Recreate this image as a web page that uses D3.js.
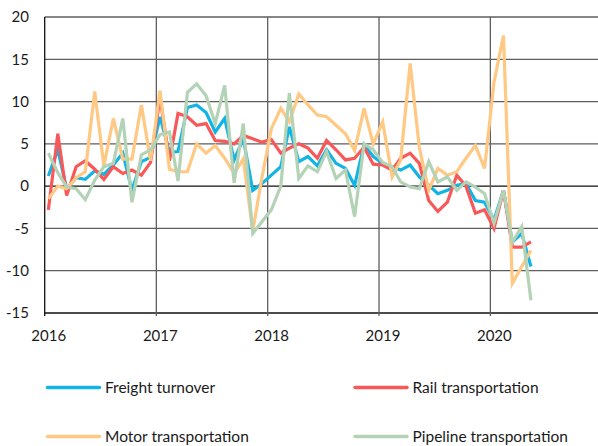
<!DOCTYPE html>
<meta charset="utf-8">
<html>
<head>
    <title>Freight transportation, % YoY</title>
    <script type="text/javascript" src="https://d3js.org/d3.v7.min.js"></script>
    <style>
        body { margin: 0; background: #fff; }
        text { font-family: Lato, "Open Sans", sans-serif; fill: #1a1a1a; }
    </style>
</head>
<body>
    <div id="chart"></div>
    <script>
        // monthly data, Jan 2016 .. May 2020, % year on year
        const freight = [1.2, 4.3, -0.3, 1.0, 0.8, 1.8, 1.4, 2.5, 3.9, -0.5, 2.9, 3.4,
            8.2, 4.0, 4.1, 9.3, 9.6, 8.7, 6.4, 8.0, 3.1, 5.6, -0.5, 0.3,
            1.3, 2.3, 7.0, 2.9, 3.5, 2.4, 4.3, 2.7, 2.1, 0.1, 4.9, 3.5,
            2.7, 2.3, 1.9, 2.5, 1.1, 0.1, -0.9, -0.5, 0.1, 0.3, -1.7, -1.9,
            -4.0, -0.5, -6.6, -5.6, -9.5];
        const rail = [-2.8, 6.2, -1.1, 2.3, 3.0, 2.0, 0.8, 2.3, 1.5, 1.9, 1.3, 2.8,
            10.5, 3.0, 8.6, 8.2, 7.2, 7.4, 5.4, 5.3, 5.0, 6.0, 5.6, 5.2,
            5.5, 3.9, 4.5, 5.0, 4.5, 3.3, 5.4, 4.3, 3.1, 3.3, 4.6, 2.6,
            2.5, 1.9, 3.3, 3.9, 2.7, -1.7, -3.0, -1.9, 1.3, 0.0, -3.2, -2.8,
            -5.0, -0.5, -7.2, -7.2, -6.6];
        const motor = [-1.5, 0.0, -0.3, 1.0, 1.7, 11.2, 2.4, 8.0, 3.2, 3.2, 9.6, 3.0,
            11.3, 2.0, 1.7, 1.7, 5.0, 3.9, 4.8, 3.3, 1.5, 3.2, -5.3, 1.0,
            6.8, 9.2, 7.6, 10.9, 9.6, 8.4, 8.2, 7.2, 6.2, 4.2, 9.2, 5.0,
            7.6, 1.1, 3.1, 14.5, 4.6, -0.5, 2.1, 1.3, 1.7, 3.3, 4.8, 2.1,
            12.3, 17.8, -11.5, -9.5, -7.6];
        const pipeline = [3.9, 1.6, -0.1, -0.3, -1.6, 0.7, 2.3, 2.7, 8.0, -1.9, 3.7, 4.3,
            6.1, 6.4, 0.6, 11.1, 12.1, 10.7, 7.4, 11.9, 0.4, 7.4, -5.6, -4.2,
            -2.8, 0.0, 11.0, 0.9, 2.4, 1.7, 4.1, 0.9, 1.9, -3.6, 5.0, 4.3,
            2.8, 2.3, 0.5, -0.1, -0.3, 2.9, 0.5, 1.1, -0.5, 0.5, -0.1, -0.9,
            -4.4, -0.5, -6.6, -4.8, -13.5];

        const seriesNames = ["Freight turnover", "Rail transportation", "Motor transportation", "Pipeline transportation"];
        const seriesColors = ["#12b4e6", "#f95858", "#ffc883", "#b4d3b6"];
        const yearTicks = [2016, 2017, 2018, 2019, 2020];
        const yTicks = [-15, -10, -5, 0, 5, 10, 15, 20];

        const width = 598;
        const height = 446;

        const svg = d3.select("#chart").append("svg")
            .attr("width", width)
            .attr("height", height);

        const months = d3.range(freight.length).map(i => new Date(2016, i, 13));

        const x = d3.scaleTime()
            .domain([new Date(2016, 0, 1), new Date(2021, 0, 1)])
            .range([44.7, 602]);
        const y = d3.scaleLinear()
            .domain([-15, 20])
            .range([313, 17]);

        // horizontal grid
        svg.append("g")
            .selectAll("line")
            .data(yTicks)
            .enter()
            .append("line")
            .attr("x1", x.range()[0])
            .attr("x2", width)
            .attr("y1", d => y(d))
            .attr("y2", d => y(d))
            .attr("stroke", d => (d === 0 || d === -15) ? "#111" : "#5e5e5e")
            .attr("stroke-width", 1.3);

        // vertical year lines
        svg.append("g")
            .selectAll("line")
            .data(yearTicks)
            .enter()
            .append("line")
            .attr("x1", d => x(new Date(d, 0, 1)))
            .attr("x2", d => x(new Date(d, 0, 1)))
            .attr("y1", y(20))
            .attr("y2", y(-15) + 3)
            .attr("stroke", d => d === 2016 ? "#111" : "#5e5e5e")
            .attr("stroke-width", 1.3);

        // y labels
        svg.append("g")
            .selectAll("text")
            .data(yTicks)
            .enter()
            .append("text")
            .attr("x", 29)
            .attr("y", d => y(d))
            .attr("dy", "0.35em")
            .attr("text-anchor", "end")
            .style("font-size", "15px")
            .text(d => d);

        // x labels
        svg.append("g")
            .selectAll("text")
            .data(yearTicks)
            .enter()
            .append("text")
            .attr("x", d => x(new Date(d, 0, 1)) + 4)
            .attr("y", 336)
            .attr("dy", "0.35em")
            .attr("text-anchor", "middle")
            .style("font-size", "15px")
            .text(d => d);

        const line = d3.line()
            .x((d, i) => x(months[i]))
            .y(d => y(d));

        // drawn in legend order
        const allSeries = [freight, rail, motor, pipeline];
        allSeries.forEach((s, k) => {
            svg.append("path")
                .datum(s)
                .attr("fill", "none")
                .attr("stroke", seriesColors[k])
                .attr("stroke-width", 3.2)
                .attr("stroke-linejoin", "miter")
                .attr("d", line);
        });

        // legend 2 x 2
        const legend = svg.append("g")
            .selectAll("g")
            .data(seriesNames)
            .enter()
            .append("g")
            .attr("transform", (d, i) => "translate(" + (i % 2 === 0 ? 47.5 : 355) + "," + (i < 2 ? 387.5 : 436.5) + ")");

        legend.append("line")
            .attr("x1", 0)
            .attr("x2", 52)
            .attr("stroke", (d, i) => seriesColors[i])
            .attr("stroke-width", 3.5)
            .attr("stroke-linecap", "round");

        legend.append("text")
            .attr("x", 57.5)
            .attr("dy", "0.35em")
            .style("font-size", "15.5px")
            .text(d => d);
    </script>
</body>
</html>
